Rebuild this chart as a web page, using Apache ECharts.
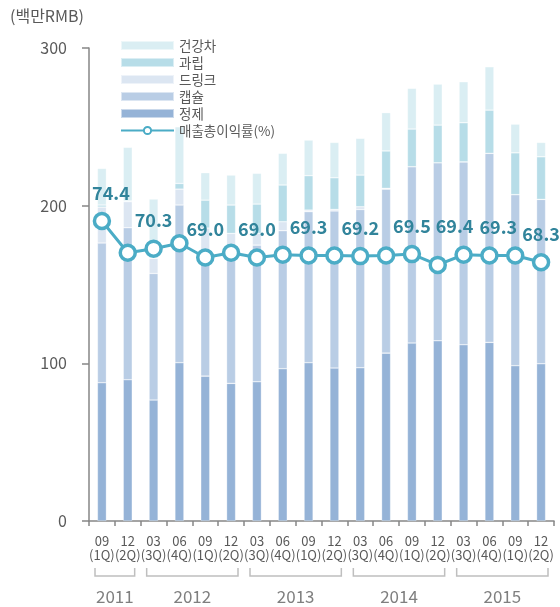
<!DOCTYPE html>
<html><head><meta charset="utf-8">
<script src="https://cdn.jsdelivr.net/npm/echarts@6/dist/echarts.min.js"></script>
<style>html,body{margin:0;padding:0;background:#fff}#c{width:560px;height:607px}</style>
</head><body><div id="c"></div>
<script>
const categories = ['09\n(1Q)','12\n(2Q)','03\n(3Q)','06\n(4Q)','09\n(1Q)','12\n(2Q)','03\n(3Q)','06\n(4Q)','09\n(1Q)','12\n(2Q)','03\n(3Q)','06\n(4Q)','09\n(1Q)','12\n(2Q)','03\n(3Q)','06\n(4Q)','09\n(1Q)','12\n(2Q)'];
const jeongje = [87.7, 89.6, 76.7, 100.4, 91.9, 87.3, 88.3, 96.6, 100.4, 97.0, 97.2, 106.5, 112.9, 114.3, 111.8, 113.3, 98.5, 99.7];
const capsule = [88.6, 96.4, 80.3, 100.0, 79.9, 87.7, 86.7, 87.5, 95.8, 99.6, 100.4, 104.0, 111.8, 112.9, 116.0, 119.9, 108.5, 104.3];
const drink   = [22.8, 16.5, 9.6, 10.1, 14.0, 7.4, 7.4, 5.7, 1.0, 1.0, 1.7, 0.5, 0, 0, 0, 0, 0, 0];
const granule = [1.3, 0.5, 0, 3.6, 17.7, 18.0, 18.6, 23.3, 21.8, 20.1, 20.1, 23.7, 23.9, 23.9, 24.8, 27.4, 26.5, 27.0];
const tea     = [23.2, 34.0, 37.6, 35.9, 17.4, 19.0, 19.5, 20.1, 22.6, 22.4, 23.3, 24.3, 25.8, 26.0, 26.0, 27.5, 18.2, 9.1];
const margin  = [74.4, 69.7, 70.3, 71.1, 69.0, 69.7, 69.0, 69.4, 69.3, 69.3, 69.2, 69.3, 69.5, 67.9, 69.4, 69.3, 69.3, 68.3];
const labeledPoints = [0, 2, 4, 6, 8, 10, 12, 14, 16, 17];
const yearLabels = ['2011', '2012', '2013', '2014', '2015'];
const yearStart = [0, 2, 6, 10, 14];
const yearEnd = [1, 5, 9, 13, 17];
const yTicks = [0, 100, 200, 300];

const FONT = "'Noto Sans CJK KR', 'Noto Sans', sans-serif";
const labelShiftX = {0: 9, 14: -9, 16: -17};

const chart = echarts.init(document.getElementById('c'));
const barSeries = (name, data, color) => ({
  name, type: 'bar', stack: 'sales', data, barWidth: 9,
  itemStyle: { color, borderColor: 'rgba(255,255,255,0.5)', borderWidth: 0.6 },
  emphasis: { disabled: true }
});

chart.setOption({
  animation: false,
  textStyle: { fontFamily: FONT },
  title: { text: '(백만RMB)', left: 5, top: 3, textStyle: { fontSize: 16, fontWeight: 'normal', color: '#595959', fontFamily: FONT } },
  legend: {
    orient: 'vertical', left: 120, top: 37, padding: 0, itemWidth: 53, itemHeight: 9, itemGap: 0,
    textStyle: { fontSize: 13.5, color: '#595959', lineHeight: 17, fontFamily: FONT },
    data: [
      { name: '건강차', icon: 'rect' }, { name: '과립', icon: 'rect' }, { name: '드링크', icon: 'rect' },
      { name: '캡슐', icon: 'rect' }, { name: '정제', icon: 'rect' }, { name: '매출총이익률(%)' }
    ]
  },
  grid: { left: 89, right: 6, top: 48, bottom: 86 },
  xAxis: {
    type: 'category', data: categories,
    axisLine: { lineStyle: { color: '#868686', width: 1.5 } },
    axisTick: { show: true, length: 5, lineStyle: { color: '#868686', width: 1.5 } },
    axisLabel: { fontSize: 13, color: '#595959', lineHeight: 14, margin: 13, interval: 0, fontFamily: FONT }
  },
  yAxis: [{
    type: 'value', min: 0, max: 300, interval: 100,
    axisLine: { show: true, lineStyle: { color: '#868686', width: 1.5 } },
    axisTick: { show: true, inside: false, length: 7, lineStyle: { color: '#868686', width: 1.5 } },
    splitLine: { show: false },
    axisLabel: { fontSize: 16, color: '#595959', margin: 22, fontFamily: FONT,
      formatter: v => yTicks.includes(v) ? String(v) : '' }
  }, {
    type: 'value', min: 30, max: 100, show: false, splitLine: { show: false }
  }],
  series: [
    barSeries('정제', jeongje, '#95B3D7'),
    barSeries('캡슐', capsule, '#B9CDE5'),
    barSeries('드링크', drink, '#DCE6F2'),
    barSeries('과립', granule, '#B7DDE8'),
    barSeries('건강차', tea, '#DAEEF3'),
    {
      name: '매출총이익률(%)', type: 'line', yAxisIndex: 1, z: 5,
      data: margin.map((v, i) => ({
        value: v,
        label: { show: labeledPoints.includes(i), offset: [labelShiftX[i] || 0, 0] }
      })),
      symbol: 'circle', symbolSize: 15,
      lineStyle: { color: '#4BACC6', width: 3 },
      itemStyle: { color: '#fff', borderColor: '#4BACC6', borderWidth: 3.5 },
      label: { position: 'top', distance: 10, fontSize: 18, fontWeight: 'bold', color: '#31849B', fontFamily: FONT,
        formatter: p => p.value.toFixed(1) },
      emphasis: { disabled: true }
    },
    {
      type: 'custom', silent: true, clip: false, z: 1,
      data: yearLabels.map((y, i) => [yearStart[i], yearEnd[i], y]),
      renderItem: (params, api) => {
        const s = api.coord([api.value(0), 0]);
        const e = api.coord([api.value(1), 0]);
        const band = api.size([1, 0])[0];
        const inset = 6;
        const x0 = s[0] - band / 2 + inset, x1 = e[0] + band / 2 - inset;
        const yTop = s[1] + 47, yBot = s[1] + 55;
        return {
          type: 'group', children: [
            { type: 'polyline', shape: { points: [[x0, yTop], [x0, yBot], [x1, yBot], [x1, yTop]] },
              style: { stroke: '#BFBFBF', lineWidth: 1.5, fill: null } },
            { type: 'text', style: { text: api.value(2), x: (x0 + x1) / 2, y: s[1] + 76,
              align: 'center', verticalAlign: 'middle', fontSize: 17, fill: '#7F7F7F', fontFamily: FONT } }
          ]
        };
      }
    }
  ]
});
</script></body></html>
